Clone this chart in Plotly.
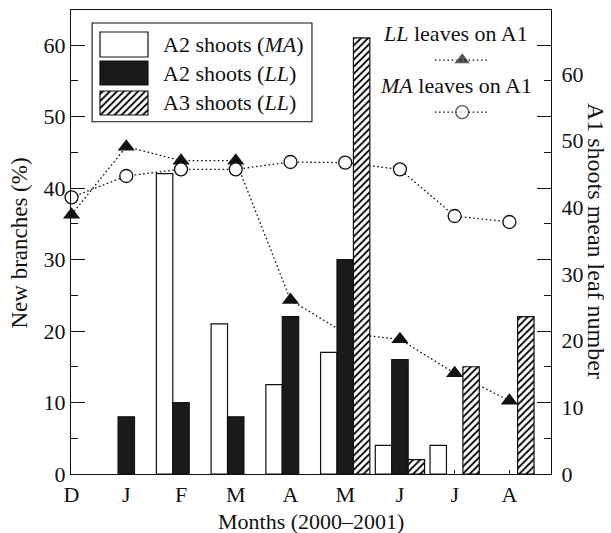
import plotly.graph_objects as go

# ---- data ----
months = ["D", "J", "F", "M", "A", "M", "J", "J", "A"]
month_pos = list(range(len(months)))
a2_ma = [None, None, 42, 21, 12.5, 17, 4, 4, None]      # A2 shoots (MA), %
a2_ll = [None, 8, 10, 8, 22, 30, 16, None, None]        # A2 shoots (LL), %
a3_ll = [None, None, None, None, None, 61, 2, 15, 22]   # A3 shoots (LL), %
ll_leaves = [38.9, 49.1, 47.0, 47.0, 26.1, 21.1, 20.2, 15.1, 11.0]  # LL leaves on A1
ma_leaves = [41.5, 44.7, 45.7, 45.7, 46.8, 46.7, 45.7, 38.7, 37.8]  # MA leaves on A1
left_ticks = [0, 10, 20, 30, 40, 50, 60]
right_ticks = [0, 10, 20, 30, 40, 50, 60]

FONT = "Liberation Serif, Times New Roman, DejaVu Serif, serif"
INK = "#111111"
DOT = "1.6px,2.6px"

fig = go.Figure()

# lines (right scale, base subplot so that bars are drawn over them)
fig.add_trace(go.Scatter(
    x=month_pos, y=ll_leaves, mode="lines+markers", yaxis="y", xaxis="x",
    line=dict(color=INK, width=1.3, dash=DOT),
    marker=dict(symbol="triangle-up", size=15, color=INK, line=dict(width=0)),
    showlegend=False, cliponaxis=False))
fig.add_trace(go.Scatter(
    x=month_pos, y=ma_leaves, mode="lines+markers", yaxis="y", xaxis="x",
    line=dict(color=INK, width=1.3, dash=DOT),
    marker=dict(symbol="circle", size=13, color="white", line=dict(color=INK, width=1.3)),
    showlegend=False, cliponaxis=False))

# bars (left scale, overlay subplot)
bar_line = dict(color=INK, width=1.2)
hatch = dict(shape="/", fgcolor="#000000", bgcolor="white", size=5, solidity=0.36, fgopacity=1)
fig.add_trace(go.Bar(x=month_pos, y=a2_ma, xaxis="x", yaxis="y2",
                     marker=dict(color="white", line=bar_line), showlegend=False))
fig.add_trace(go.Bar(x=month_pos, y=a2_ll, xaxis="x", yaxis="y2",
                     marker=dict(color="#1a1a1a", line=bar_line), showlegend=False))
fig.add_trace(go.Bar(x=month_pos, y=a3_ll, xaxis="x", yaxis="y2",
                     marker=dict(color="white", pattern=hatch, line=bar_line), showlegend=False))

# ---- manual legend (aux axes in plot-fraction units) ----
sw_x, sw_w = 0.1104, 0.1
swatches = [
    (0.8987, 0.0539, dict(color="white", line=bar_line)),
    (0.8384, 0.0517, dict(color="#1a1a1a", line=bar_line)),
    (0.7737, 0.0517, dict(color="white", pattern=hatch, line=bar_line)),
]
for base, h, mk in swatches:
    fig.add_trace(go.Bar(x=[sw_x], y=[h], base=[base], width=[sw_w], offset=-sw_w / 2,
                         xaxis="x2", yaxis="y3", marker=mk, showlegend=False,
                         hoverinfo="skip"))

fig.add_trace(go.Scatter(x=[0.758, 0.815, 0.869], y=[0.892] * 3, xaxis="x2", yaxis="y3",
                         mode="lines+markers", line=dict(color=INK, width=1.3, dash=DOT),
                         marker=dict(symbol="triangle-up", size=[0, 15, 0], color=INK),
                         showlegend=False, hoverinfo="skip", cliponaxis=False))
fig.add_trace(go.Scatter(x=[0.758, 0.815, 0.869], y=[0.780] * 3, xaxis="x2", yaxis="y3",
                         mode="lines+markers", line=dict(color=INK, width=1.3, dash=DOT),
                         marker=dict(symbol="circle", size=[0, 13, 0], color="white",
                                     line=dict(color=INK, width=1.3)),
                         showlegend=False, hoverinfo="skip", cliponaxis=False))

tf = dict(family=FONT, size=22, color=INK)
annots = [
    dict(text="A2 shoots (<i>MA</i>)", x=0.1875, y=0.926),
    dict(text="A2 shoots (<i>LL</i>)", x=0.1875, y=0.864),
    dict(text="A3 shoots (<i>LL</i>)", x=0.1875, y=0.800),
]
for a in annots:
    fig.add_annotation(xref="paper", yref="paper", xanchor="left", yanchor="middle",
                       showarrow=False, font=tf, **a)
fig.add_annotation(text="<i>LL</i> leaves on A1", x=0.802, y=0.950, xref="paper", yref="paper",
                   showarrow=False, font=tf, xanchor="center", yanchor="middle")
fig.add_annotation(text="<i>MA</i> leaves on A1", x=0.802, y=0.838, xref="paper", yref="paper",
                   showarrow=False, font=tf, xanchor="center", yanchor="middle")

# axis titles
fig.add_annotation(text="New branches (%)", x=-0.108, y=0.497, xref="paper", yref="paper",
                   textangle=-90, showarrow=False, font=dict(family=FONT, size=23, color=INK),
                   xanchor="center", yanchor="middle")
fig.add_annotation(text="A1 shoots mean leaf number", x=1.094, y=0.502, xref="paper", yref="paper",
                   textangle=90, showarrow=False, font=dict(family=FONT, size=24, color=INK),
                   xanchor="center", yanchor="middle")
fig.add_annotation(text="Months (2000–2001)", x=0.501, y=-0.1034, xref="paper", yref="paper",
                   showarrow=False, font=dict(family=FONT, size=22, color=INK),
                   xanchor="center", yanchor="middle")

fig.add_shape(type="rect", xref="paper", yref="paper", x0=0.044, x1=0.502, y0=0.759, y1=0.972,
              line=dict(color=INK, width=1.1), fillcolor="white", layer="below")

tickfont = dict(family=FONT, size=22, color=INK)
fig.update_layout(
    width=611, height=533,
    margin=dict(l=71, r=60, t=10, b=59),
    paper_bgcolor="white", plot_bgcolor="white",
    font=dict(family=FONT, color=INK),
    barmode="group", bargap=0.1, bargroupgap=0,
    showlegend=False,
    xaxis=dict(range=[-0.01, 8.76], tickvals=month_pos, ticktext=months,
               ticks="inside", ticklen=4, tickwidth=1.2, tickcolor=INK,
               showline=True, linecolor=INK, linewidth=1.3, mirror=True,
               showgrid=False, zeroline=False, tickfont=tickfont),
    yaxis=dict(side="right", range=[0, 69.6], tickvals=right_ticks,
               ticks="outside", ticklen=5, tickcolor="rgba(0,0,0,0)",
               showline=True, linecolor=INK, linewidth=1.3,
               showgrid=False, zeroline=False, tickfont=tickfont),
    yaxis2=dict(side="left", overlaying="y", range=[0, 64.9], tickvals=left_ticks,
                ticks="inside", ticklen=14, tickwidth=1.2, tickcolor=INK,
                minor=dict(dtick=5, tick0=0, ticks="inside", ticklen=7, tickwidth=1.2, tickcolor=INK),
                showline=True, linecolor=INK, linewidth=1.3, mirror="ticks",
                showgrid=False, zeroline=False, tickfont=tickfont),
    xaxis2=dict(overlaying="x", range=[0, 1], visible=False),
    yaxis3=dict(overlaying="y", anchor="x2", range=[0, 1], visible=False),
)

fig.write_html("out.html")
